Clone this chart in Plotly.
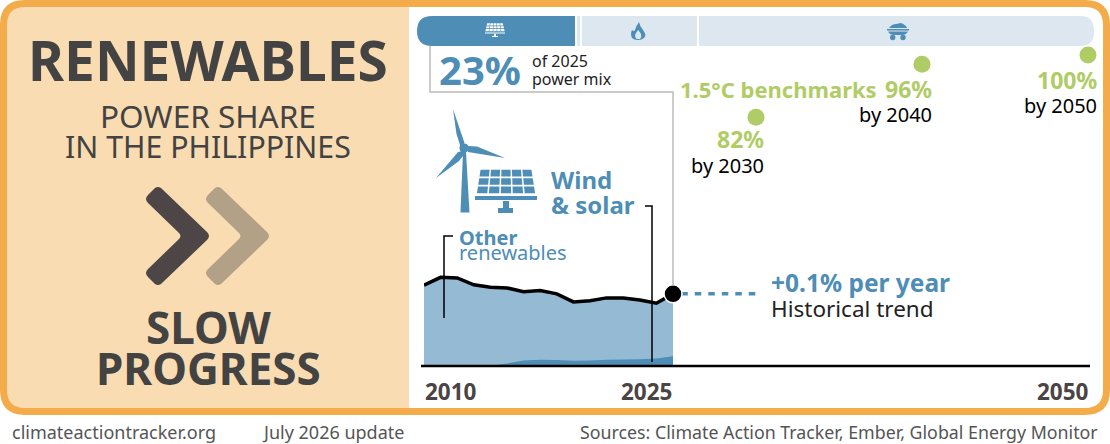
import re
import plotly.graph_objects as go

W = 1110
H = 444
FONT = "Noto Sans"

# chart values
years = list(range(2010, 2026))
total_share = [26.0, 28.5, 28.3, 26.1, 25.3, 25.1, 23.9, 24.3, 23.2, 20.6, 21.0, 21.9, 21.9, 21.2, 20.2, 23.2]
wind_solar_share = [0, 0, 0, 0, 0.1, 0.8, 1.8, 2.0, 1.9, 1.7, 1.8, 2.0, 2.1, 2.2, 2.4, 3.1]
trend_years = [2025.5, 2030]
trend_share = [23.2, 23.2]
benchmark_years = [2030, 2040, 2050]
benchmark_share = [80, 97, 100]
tick_years = [2010, 2025, 2050]

BLUE = "#4E8DB5"
LIGHT_BLUE = "#95BAD3"
PALE_BLUE = "#DCE7F0"
GREEN = "#B0CC66"
ORANGE = "#F4AC4A"
PEACH = "#FADCB2"
DARK = "#434343"


def X(p):
    return p / W


def Y(p):
    return 1 - p / H


def P(d):
    # svg path written in screen pixels -> paper coordinates
    out = []
    is_x = True
    for tok in re.findall(r"[A-Za-z]|-?\d+\.?\d*", d):
        if tok.isalpha():
            out.append(tok)
        else:
            out.append(f"{X(float(tok)):.5f}" if is_x else f"{Y(float(tok)):.5f}")
            is_x = not is_x
    return " ".join(out)


shapes = []
annotations = []


def shape(d, fill=None, line=None, width=0, layer="above"):
    shapes.append(dict(type="path", xref="paper", yref="paper", path=P(d), layer=layer,
                       fillcolor=fill if fill else "rgba(0,0,0,0)",
                       line=dict(color=line if line else "rgba(0,0,0,0)", width=width)))


def text(x, y, s, size, color=DARK, bold=False, anchor="left"):
    annotations.append(dict(xref="paper", yref="paper", x=X(x), y=Y(y), text=f"<b>{s}</b>" if bold else s,
                            showarrow=False, xanchor=anchor, yanchor="middle", borderpad=0, borderwidth=0,
                            font=dict(family=FONT, size=size, color=color)))


def dot(cx, cy, r):
    return (f"M {cx-r} {cy} Q {cx-r} {cy-r} {cx} {cy-r} Q {cx+r} {cy-r} {cx+r} {cy} "
            f"Q {cx+r} {cy+r} {cx} {cy+r} Q {cx-r} {cy+r} {cx-r} {cy} Z")


# card and left panel
shape("M 3.5 25 Q 3.5 3.5 25 3.5 L 409 3.5 L 409 411.5 L 25 411.5 Q 3.5 411.5 3.5 390 Z", fill=PEACH, layer="below")
shape("M 25 3.5 L 1085 3.5 Q 1106.5 3.5 1106.5 25 L 1106.5 390 Q 1106.5 411.5 1085 411.5 L 25 411.5 "
      "Q 3.5 411.5 3.5 390 L 3.5 25 Q 3.5 3.5 25 3.5 Z", line=ORANGE, width=7, layer="below")

# chevrons
for dx, col in ((0, "#4E4646"), (60, "#B3A187")):
    d = (f"M {155+dx} 188 Q {158+dx} 186 {161+dx} 188 L {207+dx} 232 Q {211+dx} 236 {207+dx} 240 "
         f"L {161+dx} 284 Q {158+dx} 286 {155+dx} 284 L {148+dx} 277 Q {144+dx} 273 {148+dx} 269 "
         f"L {178+dx} 240 Q {183+dx} 236 {178+dx} 232 L {148+dx} 203 Q {144+dx} 199 {148+dx} 195 Z")
    shape(d, fill=col, layer="below")

# power mix bar
shape("M 432 16 L 575 16 L 575 46 L 432 46 Q 417 46 417 31 Q 417 16 432 16 Z", fill=BLUE, layer="below")
shape("M 577 16 L 580 16 L 580 46 L 577 46 Z", fill=PALE_BLUE, layer="below")
shape("M 582 16 L 697 16 L 697 46 L 582 46 Z", fill=PALE_BLUE, layer="below")
shape("M 699 16 L 1081 16 Q 1094 16 1094 31 Q 1094 46 1081 46 L 699 46 Z", fill=PALE_BLUE, layer="below")


def panel(x0, y0, w_top, w_bot, h, color, cols, rows, gap):
    # solar panel drawn as a grid of small trapezoid cells
    def at(u, v):
        wid = w_top + (w_bot - w_top) * v
        return x0 - wid / 2 + wid * u, y0 + h * v
    for r in range(rows):
        for c in range(cols):
            u0, u1 = c / cols + gap / w_bot, (c + 1) / cols - gap / w_bot
            v0, v1 = r / rows + gap / h, (r + 1) / rows - gap / h
            a, b, e, f = at(u0, v0), at(u1, v0), at(u1, v1), at(u0, v1)
            shape(f"M {a[0]:.2f} {a[1]:.2f} L {b[0]:.2f} {b[1]:.2f} L {e[0]:.2f} {e[1]:.2f} L {f[0]:.2f} {f[1]:.2f} Z",
                  fill=color)


# small icons in the bar
panel(495, 23, 16, 20, 8.5, "white", 5, 3, 0.3)
shape("M 485 32.5 L 505 32.5 L 505 33.5 L 485 33.5 Z", fill="white")
shape("M 494 34 L 496 34 L 496 36 L 498 36 L 498 37 L 492 37 L 492 36 L 494 36 Z", fill="white")
shape("M 639 22 Q 640 27 643 30 Q 647 35 644 38 Q 642 40 638 40 Q 634 40 632 38 Q 630 34 632 30 Q 634 32 635 30 "
      "Q 636 26 639 22 Z", fill=BLUE)
shape("M 638 30 Q 636 33 635 35 Q 635 38 637 39 L 640 39 Q 642 37 641 34 Q 640 32 638 30 Z", fill=PALE_BLUE)
shape("M 889 28 Q 892 24 896 24 L 901 23 Q 906 25 907 28 Z", fill=BLUE)
shape("M 887 29 L 909 29 L 909 30.5 L 887 30.5 Z", fill=BLUE)
shape("M 888 31.5 L 908 31.5 Q 906 35 902 35 L 894 35 Q 890 35 888 31.5 Z", fill=BLUE)
shape(dot(892.7, 37.5, 2.7), fill=BLUE)
shape(dot(903, 37.5, 2.7), fill=BLUE)

# grey leader from bar to the 2025 point
shape("M 430 46 L 430 92 L 673 92 L 673 286", line="#BBBBBB", width=1.5)

# wind turbine and big solar panel
shape("M 463 152 L 466 152 L 469.5 212.5 L 460.5 212.5 Z", fill=BLUE)
shape("M 453 109 L 464.5 143 L 461 148 L 456.5 134 Z", fill=BLUE)
shape("M 505 158 L 477 146.5 L 467 146 L 468 152 Z", fill=BLUE)
shape("M 436 178 L 458 152 L 463 151 L 463 156 L 459 161 Z", fill=BLUE)
shape(dot(464, 148, 4.5), fill=BLUE)
panel(506, 169, 52, 60, 25, BLUE, 5, 3, 0.8)
shape("M 475 196 L 537 196 L 537 200 L 475 200 Z", fill=BLUE)
shape("M 503 201 L 509 201 L 509 208 L 513 208 L 513 213 L 498 213 L 498 208 L 503 208 Z", fill=BLUE)

# leaders to the labels
shape("M 645 206 L 652 206 L 652 362", line="black", width=1.5)
shape("M 453 236 L 444 236 L 444 318", line="black", width=1.5)
# baseline
shape("M 421 366 L 1090 366", line="black", width=2.5)

# text, left panel
text(208, 60, "RENEWABLES", 55, bold=True, anchor="center")
text(208, 115, "POWER SHARE", 31.5, anchor="center")
text(208, 146, "IN THE PHILIPPINES", 30.3, anchor="center")
text(208, 327, "SLOW", 44, bold=True, anchor="center")
text(208, 368, "PROGRESS", 44, bold=True, anchor="center")

# text, chart panel
text(439, 70, "23%", 40, color=BLUE, bold=True)
text(532, 61, "of 2025", 16, color="#222222")
text(532, 79, "power mix", 16, color="#222222")
text(680, 89, "1.5°C benchmarks", 22, color=GREEN, bold=True)
text(932, 89, "96%", 23, color=GREEN, bold=True, anchor="right")
text(932, 114, "by 2040", 20, color="black", anchor="right")
text(764, 139, "82%", 23, color=GREEN, bold=True, anchor="right")
text(764, 165, "by 2030", 20, color="black", anchor="right")
text(1097, 80, "100%", 23, color=GREEN, bold=True, anchor="right")
text(1097, 105, "by 2050", 20, color="black", anchor="right")
text(551, 179, "Wind", 24, color=BLUE, bold=True)
text(551, 204, "&amp; solar", 24, color=BLUE, bold=True)
text(459, 237, "Other", 20, color=BLUE, bold=True)
text(459, 253, "renewables", 20, color=BLUE)
text(771, 282, "+0.1% per year", 24.5, color=BLUE, bold=True)
text(771, 308, "Historical trend", 22.5, color="#222222")

# footer
text(12, 432, "climateactiontracker.org", 18, color="#555555")
text(262, 432, "July 2026 update", 18, color="#555555")
text(1098, 432, "Sources: Climate Action Tracker, Ember, Global Energy Monitor", 17.8, color="#555555", anchor="right")

# year labels sit inside the axis ends
for yr, anc, shift in zip(tick_years, ["left", "right", "right"], [0, 0, 2]):
    annotations.append(dict(xref="x", yref="paper", x=yr, y=Y(391), text=f"<b>{yr}</b>", showarrow=False,
                            xanchor=anc, yanchor="middle", borderpad=0, xshift=shift,
                            font=dict(family=FONT, size=22.5, color="#4A4444")))

fig = go.Figure()
fig.add_trace(go.Scatter(x=years, y=total_share, mode="none", fill="tozeroy", fillcolor=LIGHT_BLUE, hoverinfo="skip"))
fig.add_trace(go.Scatter(x=years, y=wind_solar_share, mode="none", fill="tozeroy", fillcolor=BLUE, hoverinfo="skip"))
fig.add_trace(go.Scatter(x=years, y=total_share, mode="lines", line=dict(color="black", width=3.5), hoverinfo="skip"))
fig.add_trace(go.Scatter(x=trend_years, y=trend_share, mode="lines", line=dict(color=BLUE, width=3.5, dash="6.5px,7px"),
                         hoverinfo="skip"))
fig.add_trace(go.Scatter(x=years[-1:], y=total_share[-1:], mode="markers", hoverinfo="skip",
                         marker=dict(color="black", size=18, line=dict(color="white", width=1.5))))
fig.add_trace(go.Scatter(x=benchmark_years, y=benchmark_share, mode="markers", cliponaxis=False, hoverinfo="skip",
                         marker=dict(color=GREEN, size=17)))

fig.update_layout(
    width=W, height=H, margin=dict(l=0, r=0, t=0, b=0), showlegend=False,
    paper_bgcolor="white", plot_bgcolor="rgba(0,0,0,0)",
    xaxis=dict(domain=[X(424), X(1088)], range=[2010, 2050], visible=False, fixedrange=True),
    yaxis=dict(domain=[Y(366), Y(55)], range=[0, 100], visible=False, fixedrange=True),
    shapes=shapes, annotations=annotations,
)
fig.write_html("out.html", config={"displayModeBar": False},
               post_script="document.body.style.margin='0';")
